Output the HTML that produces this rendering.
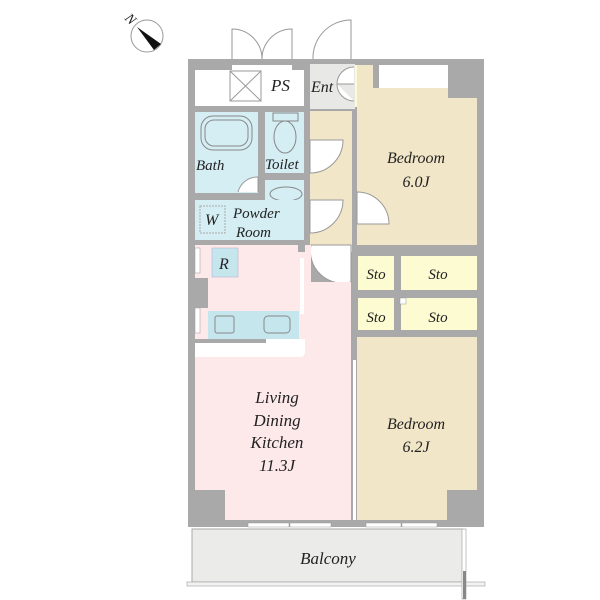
<!DOCTYPE html>
<html><head><meta charset="utf-8"><style>
html,body{margin:0;padding:0;background:#fff;}
svg{display:block;}
text{font-family:"Liberation Serif",serif;font-style:italic;fill:#222;}
</style></head><body>
<svg width="600" height="600" viewBox="0 0 600 600" xmlns="http://www.w3.org/2000/svg">
<!-- compass -->
<circle cx="147" cy="36" r="16" fill="#fff" stroke="#999" stroke-width="1"/>
<polygon points="137,27 161,44 154,50" fill="#111"/>
<text x="127" y="20" font-size="14" transform="rotate(45 127 16)" font-style="normal">N</text>

<!-- outside doors -->
<g fill="none" stroke="#999" stroke-width="1">
<path d="M232,60 V29 A30,30 0 0 1 262,59"/>
<path d="M292,60 V29 A30,30 0 0 0 262,59"/>
<path d="M313,60 A38,38 0 0 1 351,20 V60"/>
</g>

<!-- outer wall -->
<rect x="188" y="59" width="296" height="468" fill="#a9a9a9"/>

<!-- PS -->
<polygon points="195,70 232,70 232,65 292,65 292,70 304,70 304,106 195,106" fill="#fff"/>
<rect x="230" y="71" width="31" height="30" fill="#fff" stroke="#999"/>
<path d="M230,71 L261,101 M261,71 L230,101" stroke="#999"/>
<text x="271" y="91" font-size="17">PS</text>

<!-- Ent -->
<rect x="310" y="64" width="45" height="45" fill="#e8e8e6"/>
<rect x="355" y="65" width="18" height="42" fill="#fdfbd4"/>
<path d="M354,67 A17,17 0 0 0 337,84 H354 M354,101 A17,17 0 0 1 337,84" fill="#fff" stroke="#999"/>
<text x="311" y="92" font-size="16">Ent</text>

<!-- hallway -->
<rect x="310" y="111" width="42" height="134" fill="#f2e6c8"/>
<rect x="310" y="240" width="42" height="12" fill="#f2e6c8"/>

<!-- bedroom 1 -->
<rect x="379" y="65" width="69" height="24" fill="#fff"/>
<polygon points="357,111 357,65 373,65 373,88 448,88 448,98 477,98 477,245 357,245" fill="#f2e6c8"/>
<rect x="448" y="60" width="36" height="38" fill="#a9a9a9"/>
<text x="416" y="163" font-size="16" text-anchor="middle">Bedroom</text>
<text x="416" y="187" font-size="16" text-anchor="middle">6.0J</text>

<!-- bath -->
<rect x="195" y="112" width="63" height="81" fill="#d4eef3"/>
<rect x="201" y="116" width="51" height="34" rx="12" fill="none" stroke="#888"/>
<rect x="205" y="120" width="43" height="26" rx="9" fill="none" stroke="#888"/>
<path d="M258,192 V177 A20,20 0 0 0 238,192" fill="#fff" stroke="#999"/>
<text x="196" y="170" font-size="15">Bath</text>
<!-- toilet -->
<rect x="265" y="112" width="39" height="61" fill="#d4eef3"/>
<rect x="273" y="113" width="25" height="8" fill="none" stroke="#888"/>
<ellipse cx="285" cy="137" rx="11" ry="16" fill="none" stroke="#888"/>
<text x="265" y="169" font-size="15">Toilet</text>
<!-- sink -->
<rect x="265" y="180" width="39" height="20" fill="#d4eef3"/>
<ellipse cx="286" cy="194" rx="16" ry="7" fill="none" stroke="#888"/>
<!-- powder -->
<rect x="195" y="200" width="109" height="40" fill="#d4eef3"/>
<rect x="200" y="206" width="25" height="27" fill="none" stroke="#aaa" stroke-dasharray="2,1"/>
<text x="205" y="225" font-size="16">W</text>
<text x="233" y="218" font-size="15">Powder</text>
<text x="236" y="237" font-size="15">Room</text>

<!-- hallway doors -->
<g fill="#fff" stroke="#999">
<path d="M310,140 H343 A33,33 0 0 1 310,173 Z"/>
<path d="M310,200 H343 A33,33 0 0 1 310,233 Z"/>
<path d="M357,192 A32,32 0 0 1 389,224 H357 Z"/>
<path d="M311,245 A32,32 0 0 0 351,282 V245 Z"/>
</g>

<!-- LDK -->
<polygon points="195,245 298,245 298,252 305,252 305,245 311,245 311,282 351,282 351,520 225,520 225,490 195,490" fill="#fde8ea"/>
<rect x="195" y="248" width="5" height="25" fill="#fff" stroke="#999" stroke-width=".5"/>
<rect x="195" y="308" width="5" height="25" fill="#fff" stroke="#999" stroke-width=".5"/>
<rect x="188" y="278" width="20" height="30" fill="#a9a9a9"/>
<rect x="188" y="338" width="7" height="0" fill="#a9a9a9"/>
<rect x="212" y="248" width="26" height="29" fill="#c6e6ee" stroke="#aac" stroke-width=".5"/>
<text x="219" y="269" font-size="16">R</text>
<rect x="208" y="311" width="91" height="28" fill="#c6e6ee"/>
<rect x="215" y="316" width="19" height="17" rx="2" fill="none" stroke="#888"/>
<rect x="264" y="316" width="26" height="17" rx="4" fill="none" stroke="#888"/>
<path d="M195,339 H305 V352 Q305,357 300,357 H195 Z" fill="#fff"/>
<rect x="195" y="339" width="71" height="4" fill="#a9a9a9"/>
<rect x="300" y="258" width="4" height="56" fill="#fff"/>
<text x="277" y="403" font-size="17" text-anchor="middle">Living</text>
<text x="277" y="426" font-size="17" text-anchor="middle">Dining</text>
<text x="277" y="448" font-size="17" text-anchor="middle">Kitchen</text>
<text x="277" y="471" font-size="17" text-anchor="middle">11.3J</text>

<!-- Sto -->
<g fill="#fdfbd2">
<rect x="358" y="256" width="36" height="34"/>
<rect x="401" y="256" width="76" height="34"/>
<rect x="358" y="298" width="36" height="32"/>
<rect x="401" y="298" width="76" height="32"/>
</g>
<rect x="400" y="298" width="6" height="6" fill="#fff" stroke="#999" stroke-width=".5"/>
<g font-size="15">
<text x="376" y="279" text-anchor="middle">Sto</text>
<text x="438" y="279" text-anchor="middle">Sto</text>
<text x="376" y="322" text-anchor="middle">Sto</text>
<text x="438" y="322" text-anchor="middle">Sto</text>
</g>

<!-- bedroom 2 -->
<polygon points="357,337 477,337 477,490 447,490 447,520 357,520" fill="#f2e6c8"/>
<rect x="353" y="360" width="3" height="160" fill="#fff"/>
<text x="416" y="429" font-size="16" text-anchor="middle">Bedroom</text>
<text x="416" y="452" font-size="16" text-anchor="middle">6.2J</text>

<!-- windows bottom -->
<g fill="#fff" stroke="#999" stroke-width=".5">
<rect x="248" y="523" width="41" height="4"/><rect x="290" y="523" width="41" height="4"/>
<rect x="366" y="523" width="35" height="4"/><rect x="402" y="523" width="35" height="4"/>
</g>

<!-- balcony -->
<rect x="192" y="529" width="271" height="53" fill="#ebebea" stroke="#aaa"/>
<rect x="187" y="582" width="298" height="4" fill="#f2f2f2" stroke="#aaa" stroke-width=".7"/>
<rect x="462" y="529" width="4" height="70" fill="#fff" stroke="#aaa" stroke-width=".7"/>
<rect x="463" y="571" width="3" height="28" fill="#888"/>
<text x="328" y="564" font-size="17" text-anchor="middle">Balcony</text>
</svg>
</body></html>
